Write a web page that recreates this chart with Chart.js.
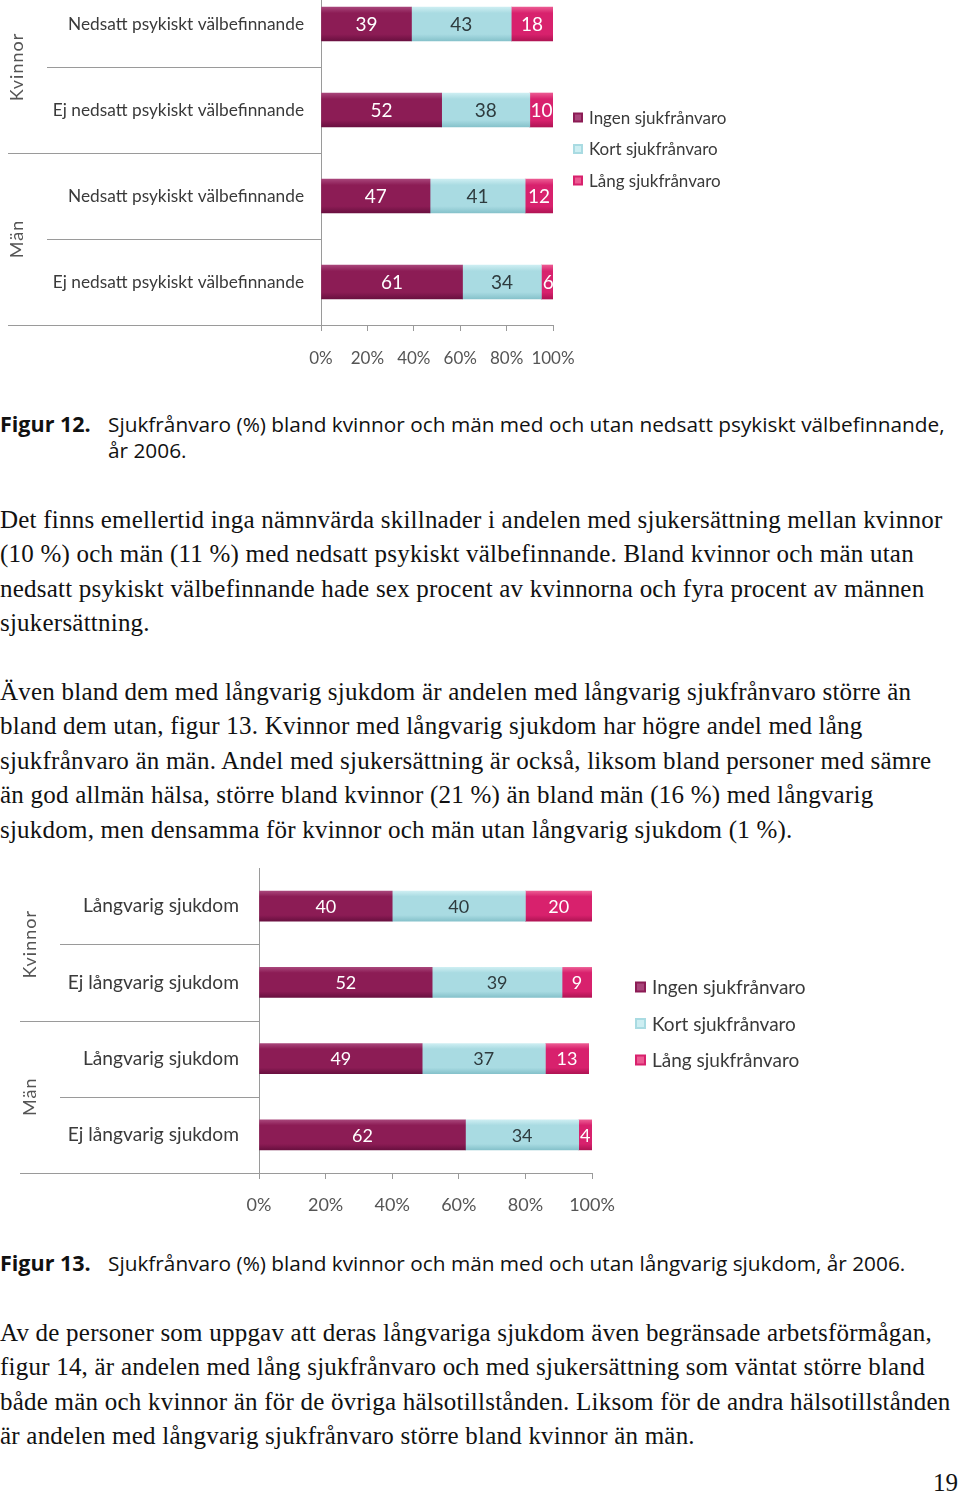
<!DOCTYPE html>
<html>
<head>
<meta charset="utf-8">
<script src="https://cdn.jsdelivr.net/npm/chart.js@4.4.1/dist/chart.umd.min.js"></script>
<style>
html, body { margin: 0; padding: 0; background: #fff; }
body { width: 960px; height: 1493px; position: relative; overflow: hidden; }
canvas { position: absolute; left: 0; }
.cap { position: absolute; left: 0; font-family: "Open Sans", sans-serif; font-size: 20.8px; line-height: 26px; color: #111; white-space: nowrap; }
.cap b { position: absolute; left: 0; top: 0; font-size: 21.5px; }
.cap span { position: absolute; left: 108px; top: 0; }
.para { position: absolute; left: 0; font-family: "Liberation Serif", serif; font-size: 25px; letter-spacing: 0.22px; line-height: 34.4px; color: #111; white-space: nowrap; }
.pnum { position: absolute; right: 2px; top: 1469px; font-family: "Liberation Serif", serif; font-size: 25px; color: #111; }
</style>
</head>
<body>

<canvas id="fig12" width="740" height="400" style="top:-30px"></canvas>

<div class="cap" style="top:411px"><b>Figur 12.</b><span>Sjukfrånvaro (%) bland kvinnor och män med och utan nedsatt psykiskt välbefinnande,<br>år 2006.</span></div>

<div class="para" style="top:503px">Det finns emellertid inga nämnvärda skillnader i andelen med sjukersättning mellan kvinnor<br>(10 %) och män (11 %) med nedsatt psykiskt välbefinnande. Bland kvinnor och män utan<br>nedsatt psykiskt välbefinnande hade sex procent av kvinnorna och fyra procent av männen<br>sjukersättning.</div>

<div class="para" style="top:675px">Även bland dem med långvarig sjukdom är andelen med långvarig sjukfrånvaro större än<br>bland dem utan, figur 13. Kvinnor med långvarig sjukdom har högre andel med lång<br>sjukfrånvaro än män. Andel med sjukersättning är också, liksom bland personer med sämre<br>än god allmän hälsa, större bland kvinnor (21 %) än bland män (16 %) med långvarig<br>sjukdom, men densamma för kvinnor och män utan långvarig sjukdom (1 %).</div>

<canvas id="fig13" width="830" height="368" style="top:850px"></canvas>

<div class="cap" style="top:1250px"><b>Figur 13.</b><span>Sjukfrånvaro (%) bland kvinnor och män med och utan långvarig sjukdom, år 2006.</span></div>

<div class="para" style="top:1316px">Av de personer som uppgav att deras långvariga sjukdom även begränsade arbetsförmågan,<br>figur 14, är andelen med lång sjukfrånvaro och med sjukersättning som väntat större bland<br>både män och kvinnor än för de övriga hälsotillstånden. Liksom för de andra hälsotillstånden<br>är andelen med långvarig sjukfrånvaro större bland kvinnor än män.</div>

<div class="pnum">19</div>

<script>
// series names and group labels (shared by both figures)
const seriesNames = ['Ingen sjukfrånvaro', 'Kort sjukfrånvaro', 'Lång sjukfrånvaro'];
const groupNames = ['Kvinnor', 'Män'];
const xTickValues = [0, 20, 40, 60, 80, 100];

// Figur 12
const fig12Categories = ['Nedsatt psykiskt välbefinnande', 'Ej nedsatt psykiskt välbefinnande', 'Nedsatt psykiskt välbefinnande', 'Ej nedsatt psykiskt välbefinnande'];
const fig12Ingen = [39, 52, 47, 61];
const fig12Kort = [43, 38, 41, 34];
const fig12Lang = [18, 10, 12, 6];

// Figur 13
const fig13Categories = ['Långvarig sjukdom', 'Ej långvarig sjukdom', 'Långvarig sjukdom', 'Ej långvarig sjukdom'];
const fig13Ingen = [40, 52, 49, 62];
const fig13Kort = [40, 39, 37, 34];
const fig13Lang = [20, 9, 13, 4];

const baseColors = ['#8c1c55', '#a9dbe2', '#d8216d'];
const lightColors = ['#a8457a', '#cdeef2', '#ec5a92'];
const darkColors = ['#6a1040', '#86c2cb', '#b01454'];
const labelColors = ['#ffffff', '#2e3b3e', '#ffffff'];
const FONT = 'Lato, "Open Sans", sans-serif';

function barFill(i, thickness) {
    return (c) => {
        const chart = c.chart;
        if (!chart.chartArea || c.type !== 'data') return baseColors[i];
        const y = chart.scales.y.getPixelForValue(c.dataIndex);
        const g = chart.ctx.createLinearGradient(0, y - thickness / 2, 0, y + thickness / 2);
        g.addColorStop(0, lightColors[i]);
        g.addColorStop(0.18, baseColors[i]);
        g.addColorStop(0.8, baseColors[i]);
        g.addColorStop(1, darkColors[i]);
        return g;
    };
}

// draws separators, group names, legend and value labels
const decorPlugin = {
    id: 'decor',
    afterDraw(chart, args, opts) {
        const ctx = chart.ctx;
        const ys = chart.scales.y;
        const area = chart.chartArea;
        const n = chart.data.labels.length;
        const band = ys.getPixelForValue(1) - ys.getPixelForValue(0);
        ctx.save();

        // category separators
        ctx.strokeStyle = '#9a9a9a';
        ctx.lineWidth = 1;
        ctx.beginPath();
        for (let i = 1; i <= n; i++) {
            const yy = Math.round(ys.getPixelForValue(i) - band / 2) + 0.5;
            const left = (i % 2 === 0) ? opts.outerLeft : opts.innerLeft;
            ctx.moveTo(left, yy);
            ctx.lineTo(area.left, yy);
        }
        ctx.stroke();

        // group names
        ctx.fillStyle = '#555';
        ctx.font = opts.groupFont;
        ctx.letterSpacing = '1px';
        ctx.textAlign = 'center';
        ctx.textBaseline = 'middle';
        groupNames.forEach((name, g) => {
            const cy = (ys.getPixelForValue(2 * g) + ys.getPixelForValue(2 * g + 1)) / 2;
            ctx.save();
            ctx.translate(opts.groupX, cy);
            ctx.rotate(-Math.PI / 2);
            ctx.fillText(name, 0, 0);
            ctx.restore();
        });
        ctx.letterSpacing = '0px';

        // value labels
        ctx.font = opts.valueFont;
        chart.data.datasets.forEach((ds, i) => {
            const meta = chart.getDatasetMeta(i);
            ctx.fillStyle = labelColors[i];
            meta.data.forEach((el, j) => {
                ctx.fillText(String(ds.data[j]), (el.x + el.base) / 2, el.y + 1);
            });
        });

        // legend
        const midY = (area.top + area.bottom) / 2 + opts.legendDy;
        ctx.font = opts.legendFont;
        ctx.textAlign = 'left';
        chart.data.datasets.forEach((ds, i) => {
            const yy = midY + (i - 1) * opts.legendGap;
            const bx = area.right + opts.legendDx;
            const s = opts.legendBox;
            ctx.fillStyle = baseColors[i];
            ctx.fillRect(bx, yy - s / 2, s, s);
            ctx.fillStyle = lightColors[i];
            ctx.fillRect(bx + 2, yy - s / 2 + 2, s - 4, s - 4);
            ctx.fillStyle = '#3a3a3a';
            ctx.fillText(ds.label, bx + opts.legendTextDx, yy + 1);
        });
        ctx.restore();
    }
};

function makeChart(id, categories, ingen, kort, lang, cfg) {
    const series = [ingen, kort, lang];
    return new Chart(document.getElementById(id), {
        type: 'bar',
        data: {
            labels: categories,
            datasets: series.map((d, i) => ({
                label: seriesNames[i],
                data: d,
                backgroundColor: barFill(i, cfg.thickness),
                barThickness: cfg.thickness,
                borderWidth: 0
            }))
        },
        options: {
            indexAxis: 'y',
            responsive: false,
            animation: false,
            devicePixelRatio: 1,
            layout: { padding: { top: cfg.padTop, right: cfg.padRight, left: 0, bottom: 0 } },
            scales: {
                x: {
                    stacked: true,
                    min: 0,
                    max: 100,
                    afterBuildTicks: (s) => { s.ticks = xTickValues.map(v => ({ value: v })); },
                    afterFit: (s) => { s.height = 45; s.paddingLeft = 0; s.paddingRight = 0; },
                    ticks: { callback: (v) => v + '%', color: '#555', font: { family: FONT, size: cfg.tickSize }, padding: cfg.tickPad, maxRotation: 0, minRotation: 0, autoSkip: false },
                    grid: { drawOnChartArea: false, tickLength: 6, color: '#9a9a9a' },
                    border: { color: '#9a9a9a' }
                },
                y: {
                    stacked: true,
                    afterFit: (s) => { s.width = cfg.axisLeft; s.paddingTop = 0; s.paddingBottom = 0; },
                    ticks: { color: '#3a3a3a', font: { family: FONT, size: cfg.catSize }, padding: cfg.catPad },
                    grid: { display: false, drawTicks: false },
                    border: { color: '#9a9a9a' }
                }
            },
            plugins: {
                legend: { display: false },
                tooltip: { enabled: false },
                decor: cfg.decor
            }
        },
        plugins: [decorPlugin]
    });
}

makeChart('fig12', fig12Categories, fig12Ingen, fig12Kort, fig12Lang, {
    thickness: 34, padTop: 11, padRight: 187, axisLeft: 321,
    tickSize: 17, tickPad: 17, catSize: 17.3, catPad: 17,
    decor: {
        innerLeft: 47, outerLeft: 8, groupX: 17, groupFont: '18px ' + FONT,
        valueFont: '19px ' + FONT, legendFont: '17px ' + FONT,
        legendDx: 20, legendDy: -4, legendGap: 31.5, legendBox: 10, legendTextDx: 16
    }
});

makeChart('fig13', fig13Categories, fig13Ingen, fig13Kort, fig13Lang, {
    thickness: 30, padTop: 18, padRight: 238, axisLeft: 259,
    tickSize: 18, tickPad: 15, catSize: 19.2, catPad: 20,
    decor: {
        innerLeft: 60, outerLeft: 20, groupX: 30, groupFont: '18px ' + FONT,
        valueFont: '18px ' + FONT, legendFont: '19px ' + FONT,
        legendDx: 43, legendDy: 3, legendGap: 36.5, legendBox: 11, legendTextDx: 17
    }
});
</script>
</body>
</html>
